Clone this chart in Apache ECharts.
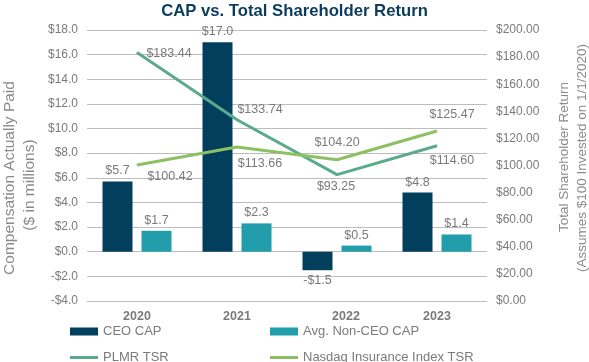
<!DOCTYPE html>
<html><head><meta charset="utf-8">
<script src="https://cdn.jsdelivr.net/npm/echarts@6/dist/echarts.min.js"></script>
<style>html,body{margin:0;padding:0;background:#fff}#c{width:589px;height:362px}</style>
</head><body><div id="c"></div>
<script>
var categories = ['2020', '2021', '2022', '2023'];
var ceoCap = [5.7, 17.0, -1.5, 4.8];
var nonCeoCap = [1.7, 2.3, 0.5, 1.4];
var plmrTsr = [183.44, 133.74, 93.25, 114.60];
var nasdaqTsr = [100.42, 113.66, 104.20, 125.47];
var leftAxisTitle = ['Compensation Actually Paid', '($ in millions)'];
var rightAxisTitle = ['Total Shareholder Return', '(Assumes $100 Invested on 1/1/2020)'];

var FONT = '"Liberation Sans", Arial, sans-serif';
var GRAY = '#7a7a7a';
var NAME_GRAY = '#8a8a8a';
var C_CEO = '#023f5d', C_NON = '#219dab', C_PLMR = '#5aab8b', C_NAS = '#8cc063';

// label offsets (layout only)
var plmrOff = [[32, 1], [23, -10], [-1, 12], [15, 15]];
var nasOff = [[33, 12], [23, 17], [0, -17], [15, -16]];

function lineData(vals, offs) {
  return vals.map(function (v, i) {
    return { value: v, label: { offset: offs[i] } };
  });
}
function barData(vals) {
  return vals.map(function (v) {
    return v < 0 ? { value: v, label: { position: 'bottom' } } : v;
  });
}
var barLabel = {
  show: true, position: 'top', distance: 4, color: GRAY, fontFamily: FONT, fontSize: 12.5,
  formatter: function (p) { return (p.value < 0 ? '-$' : '$') + Math.abs(p.value).toFixed(1); }
};
var lineLabel = {
  show: true, position: 'inside', align: 'center', verticalAlign: 'middle', color: GRAY, fontFamily: FONT, fontSize: 12.5,
  formatter: function (p) { return '$' + p.value.toFixed(2); }
};
function legend(name, left, top, h) {
  return { data: [name], left: left, top: top, icon: 'rect', itemWidth: 28, itemHeight: h, itemGap: 5,
    textStyle: { color: GRAY, fontFamily: FONT, fontSize: 13 }, selectedMode: false };
}
function vText(text, x, y, size) {
  return { type: 'text', x: x, y: y, rotation: Math.PI / 2, silent: true,
    style: { text: text, fill: NAME_GRAY, font: size + 'px ' + FONT, textAlign: 'center', textVerticalAlign: 'middle' } };
}

var chart = echarts.init(document.getElementById('c'));
chart.setOption({
  animation: false,
  title: { text: 'CAP vs. Total Shareholder Return', left: 'center', top: -2,
    textStyle: { color: '#0b3c5d', fontFamily: FONT, fontWeight: 'bold', fontSize: 16.7 } },
  legend: [
    legend('CEO CAP', 65, 320, 8),
    legend('Avg. Non-CEO CAP', 265, 320, 8),
    legend('PLMR TSR', 65, 346, 3),
    legend('Nasdaq Insurance Index TSR', 265, 346, 3)
  ],
  graphic: [
    vText(leftAxisTitle[0], 10, 178, 15.5),
    vText(leftAxisTitle[1], 30, 185, 15.5),
    vText(rightAxisTitle[0], 564, 157, 13.5),
    vText(rightAxisTitle[1], 582, 158, 13.5)
  ],
  grid: { left: 87, right: 102, top: 30, bottom: 61, outerBoundsMode: 'none', containLabel: false },
  xAxis: {
    type: 'category', data: categories,
    axisLine: { show: false }, axisTick: { show: false },
    axisLabel: { color: GRAY, fontFamily: FONT, fontSize: 12.5, fontWeight: 'bold', margin: 9,
      formatter: function (v) { return v === '2022' ? '{s|' + v + '}' : v; },
      rich: { s: { padding: [0, 0, 0, 18], color: GRAY, fontFamily: FONT, fontSize: 12.5, fontWeight: 'bold' } } }
  },
  yAxis: [
    { type: 'value', min: -4, max: 18, interval: 2,
      axisLabel: { color: GRAY, fontFamily: FONT, fontSize: 12, margin: 9,
        formatter: function (v) { return (v < 0 ? '-$' : '$') + Math.abs(v).toFixed(1); } },
      splitLine: { lineStyle: { color: '#bdbdbd', width: 1 } },
      axisLine: { show: false }, axisTick: { show: false } },
    { type: 'value', min: 0, max: 200, interval: 20, position: 'right',
      axisLabel: { color: GRAY, fontFamily: FONT, fontSize: 12, margin: 9,
        formatter: function (v) { return '$' + v.toFixed(2); } },
      splitLine: { show: false }, axisLine: { show: false }, axisTick: { show: false } }
  ],
  series: [
    { name: 'CEO CAP', type: 'bar', data: barData(ceoCap), barWidth: 30, barGap: '30%',
      itemStyle: { color: C_CEO }, label: barLabel },
    { name: 'Avg. Non-CEO CAP', type: 'bar', data: barData(nonCeoCap), barWidth: 30, barGap: '30%',
      itemStyle: { color: C_NON }, label: barLabel },
    { name: 'PLMR TSR', type: 'line', yAxisIndex: 1, data: lineData(plmrTsr, plmrOff),
      symbol: 'circle', symbolSize: 1, itemStyle: { color: C_PLMR }, lineStyle: { color: C_PLMR, width: 3 },
      label: lineLabel, z: 3 },
    { name: 'Nasdaq Insurance Index TSR', type: 'line', yAxisIndex: 1, data: lineData(nasdaqTsr, nasOff),
      symbol: 'circle', symbolSize: 1, itemStyle: { color: C_NAS }, lineStyle: { color: C_NAS, width: 3 },
      label: lineLabel, z: 3 }
  ]
});
</script></body></html>
